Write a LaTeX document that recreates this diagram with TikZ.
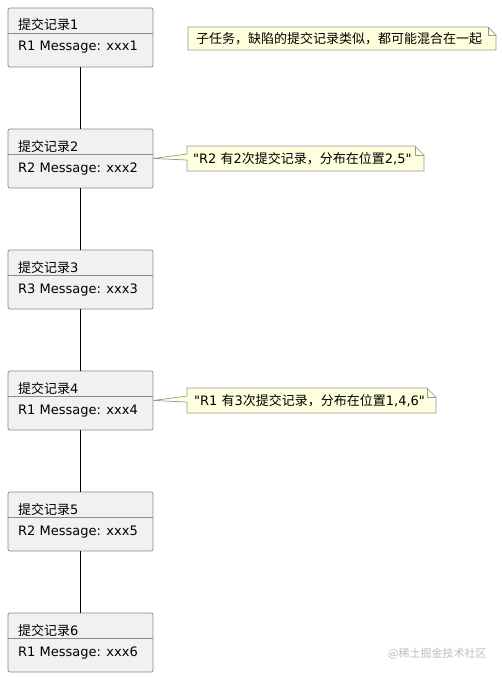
\documentclass[tikz,border=0pt]{standalone}
\usepackage{fontspec}
\setmainfont{DejaVu Sans}
\newfontfamily\dv{DejaVu Sans}
\newfontfamily\cjk{Noto Sans CJK SC}
\definecolor{boxfill}{HTML}{F1F1F1}
\definecolor{boxline}{HTML}{8A8A8A}
\definecolor{notefill}{HTML}{FEFFDD}
\definecolor{noteline}{HTML}{989898}
\definecolor{wm}{HTML}{BDBDBD}
\tikzset{
  commitbox/.style={draw=boxline, fill=boxfill, line width=0.7pt, rounded corners=2pt,
    minimum width=145pt, minimum height=59pt, inner sep=0pt},
  boxtext/.style={anchor=base west, inner sep=0pt, font=\dv\fontsize{13}{15}\selectfont},
  notebody/.style={draw=noteline, fill=notefill, line width=0.7pt, line join=miter},
  notetext/.style={anchor=base west, inner sep=0pt, font=\dv\fontsize{13}{15}\selectfont},
  link/.style={draw=black, line width=0.9pt},
}
\begin{document}
\begin{tikzpicture}[x=1pt,y=-1pt]
\useasboundingbox[fill=white] (0,0) rectangle (501,677);
% commit boxes
\foreach \i/\r in {1/1,2/2,3/3,4/1,5/2,6/1}{
  \pgfmathsetmacro{\t}{8+121*(\i-1)}
  \node[commitbox] (b\i) at (80.5,\t+29.5) {};
  \draw[boxline, line width=0.7pt] (b\i.west |- {(0,\t+25)}) -- (b\i.east |- {(0,\t+25)});
  \node[boxtext] (h\i) at (18,\t+22) {{\cjk 提交记录}\i};
  \node[boxtext] (m\i) at (18,\t+43) {R\r\ Message: xxx\i};
}
% connectors
\foreach \a/\b in {1/2,2/3,3/4,4/5,5/6}{
  \draw[link] (b\a.south) -- (b\b.north);
}
% note 1
\path[notebody] (188,27) -- (488,27) -- (496,35) -- (496,50) -- (188,50) -- cycle;
\draw[noteline, line width=0.7pt] (488,27) -- (488,35) -- (496,35);
\node[notetext] (n1) at (196,43.5) {\cjk 子任务，缺陷的提交记录类似，都可能混合在一起};
% note 2
\path[notebody] (187,146) -- (415,146) -- (424,155) -- (424,171) -- (187,171) -- (187,160) -- (b2.east) -- (187,154) -- cycle;
\draw[noteline, line width=0.7pt] (415,146) -- (415,155) -- (424,155);
\node[notetext] (n2) at (193,163) {"R2 {\cjk 有}2{\cjk 次提交记录，分布在位置}2,5"};
% note 3
\path[notebody] (187,388) -- (427,388) -- (436,397) -- (436,413) -- (187,413) -- (187,402) -- (b4.east) -- (187,396) -- cycle;
\draw[noteline, line width=0.7pt] (427,388) -- (427,397) -- (436,397);
\node[notetext] (n3) at (194,405) {"R1 {\cjk 有}3{\cjk 次提交记录，分布在位置}1,4,6"};
% watermark
\node[anchor=west, inner sep=0pt, text=wm, font=\cjk\fontsize{11}{13}\selectfont] (wmk) at (388,654) {@稀土掘金技术社区};
\end{tikzpicture}
\end{document}
